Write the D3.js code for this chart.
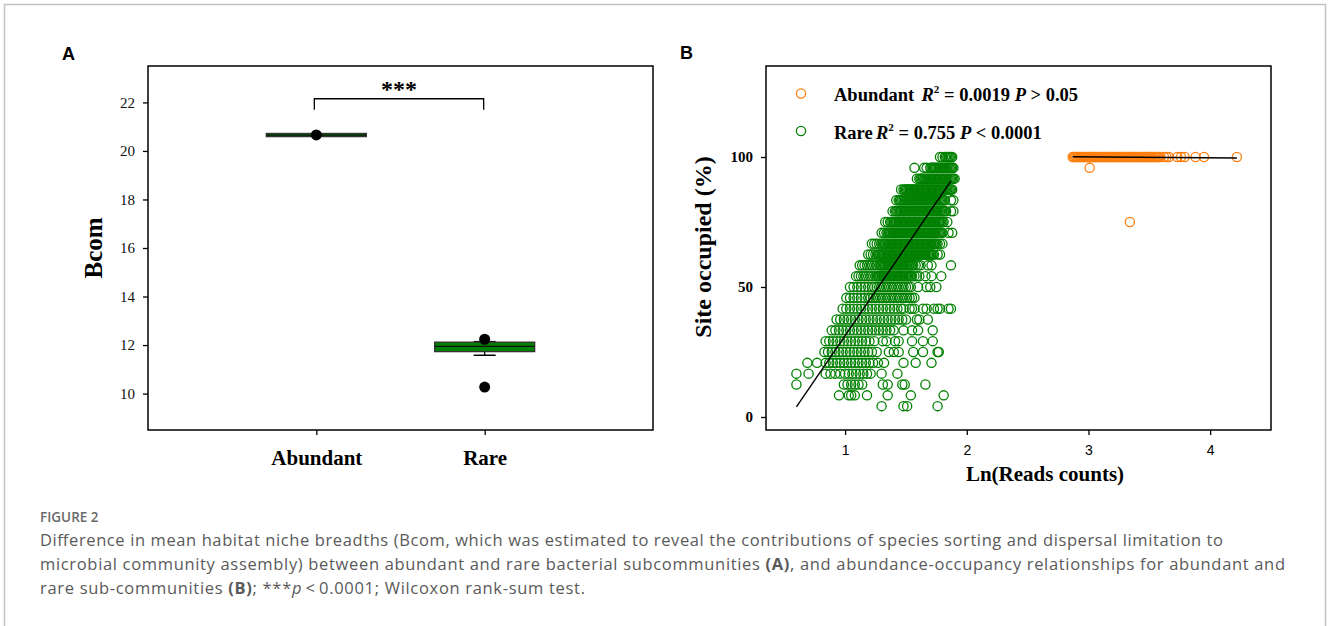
<!DOCTYPE html>
<html lang="en">
  <head>
    <meta charset="UTF-8" />
    <title>Figure 2</title>
    <script src="https://d3js.org/d3.v7.min.js"></script>
    <style>
      body {
        margin: 0;
        background: #fff;
      }
      .serif {
        font-family: "Liberation Serif", "Times New Roman", serif;
      }
      .tick line {
        stroke: #000;
        stroke-width: 1.3px;
      }
    </style>
  </head>
  <body>
    <svg width="1328" height="626"></svg>

    <script>
      // ---- panel A: box plot of Bcom ----
      var boxCats = ["Abundant", "Rare"];
      var boxQ1 = [20.59, 11.73];
      var boxMedian = [20.65, 11.95];
      var boxQ3 = [20.72, 12.12];
      var whiskerLow = [20.59, 11.58];
      var whiskerHigh = [20.72, 12.14];
      var boxOutliers = [[20.66], [12.24, 10.27]];
      var bcomTicks = [10, 12, 14, 16, 18, 20, 22];
      var bracket = [22.15, 21.7];

      // ---- panel B: abundance-occupancy ----
      // occupancy (% of 24 sites) for each row of rare OTUs
      var rareOccupied = [
        4.17, 8.33, 12.5, 16.67, 20.83, 25, 29.17, 33.33, 37.5, 41.67, 45.83,
        50, 54.17, 58.33, 62.5, 66.67, 70.83, 75, 79.17, 83.33, 87.5, 91.67,
        95.83, 100,
      ];
      // Ln(reads) of the rare OTUs in each occupancy row
      var rareReads = [
        [1.3, 1.48, 1.51, 1.76],
        [0.95, 1.03, 1.05, 1.08, 1.18, 1.35, 1.54, 1.81],
        [0.6, 0.99, 1.02, 1.05, 1.08, 1.11, 1.14, 1.31, 1.35, 1.47, 1.49, 1.66],
        [0.6, 0.7, 0.84, 0.88, 0.92, 0.96, 1.0, 1.03, 1.06, 1.09, 1.12, 1.15, 1.18, 1.21, 1.3, 1.43],
        [0.69, 0.77, 0.84, 0.87, 0.9, 0.93, 0.96, 0.99, 1.02, 1.05, 1.08, 1.11, 1.14, 1.17, 1.2, 1.23, 1.27, 1.32, 1.48, 1.58, 1.71],
        [0.83, 0.86, 0.89, 0.92, 0.95, 0.98, 1.01, 1.04, 1.07, 1.1, 1.13, 1.16, 1.19, 1.22, 1.26, 1.36, 1.4, 1.44, 1.56, 1.64, 1.76, 1.77],
        [0.84, 0.87, 0.9, 0.93, 0.96, 0.99, 1.02, 1.05, 1.08, 1.11, 1.14, 1.17, 1.2, 1.24, 1.31, 1.34, 1.41, 1.44, 1.55, 1.64, 1.72],
        [0.89, 0.92, 0.95, 0.98, 1.01, 1.04, 1.07, 1.1, 1.13, 1.16, 1.19, 1.22, 1.25, 1.28, 1.31, 1.34, 1.37, 1.4, 1.48, 1.55, 1.6, 1.72],
        [0.93, 0.96, 0.99, 1.02, 1.05, 1.08, 1.11, 1.14, 1.17, 1.2, 1.23, 1.26, 1.29, 1.32, 1.35, 1.38, 1.41, 1.44, 1.47, 1.5, 1.59, 1.61, 1.68],
        [0.98, 1.01, 1.04, 1.07, 1.1, 1.13, 1.16, 1.19, 1.22, 1.25, 1.28, 1.31, 1.34, 1.37, 1.4, 1.43, 1.46, 1.48, 1.53, 1.55, 1.57, 1.64, 1.67, 1.73, 1.76, 1.78, 1.85, 1.87],
        [1.01, 1.04, 1.07, 1.1, 1.13, 1.16, 1.19, 1.21, 1.23, 1.25, 1.27, 1.29, 1.31, 1.33, 1.35, 1.37, 1.39, 1.41, 1.43, 1.45, 1.47, 1.49, 1.51, 1.53, 1.55, 1.57],
        [1.04, 1.07, 1.1, 1.13, 1.16, 1.19, 1.22, 1.24, 1.26, 1.28, 1.3, 1.32, 1.34, 1.36, 1.38, 1.4, 1.42, 1.44, 1.46, 1.48, 1.5, 1.52, 1.54, 1.6, 1.67, 1.7, 1.75],
        [1.09, 1.11, 1.13, 1.15, 1.17, 1.19, 1.21, 1.23, 1.25, 1.26, 1.27, 1.28, 1.29, 1.3, 1.31, 1.32, 1.33, 1.34, 1.35, 1.36, 1.37, 1.38, 1.39, 1.4, 1.41, 1.42, 1.43, 1.44, 1.45, 1.46, 1.47, 1.48, 1.49, 1.5, 1.51, 1.52, 1.53, 1.54, 1.55, 1.57, 1.59, 1.61, 1.66, 1.71, 1.79],
        [1.12, 1.14, 1.16, 1.18, 1.2, 1.22, 1.24, 1.26, 1.28, 1.29, 1.3, 1.31, 1.32, 1.33, 1.34, 1.35, 1.36, 1.37, 1.38, 1.39, 1.4, 1.41, 1.42, 1.43, 1.44, 1.45, 1.46, 1.47, 1.48, 1.49, 1.5, 1.51, 1.52, 1.53, 1.54, 1.55, 1.56, 1.58, 1.6, 1.62, 1.68, 1.71, 1.87],
        [1.19, 1.21, 1.23, 1.25, 1.27, 1.28, 1.29, 1.3, 1.31, 1.32, 1.33, 1.34, 1.35, 1.36, 1.37, 1.38, 1.39, 1.4, 1.41, 1.42, 1.43, 1.44, 1.45, 1.46, 1.47, 1.48, 1.49, 1.5, 1.51, 1.52, 1.53, 1.54, 1.55, 1.56, 1.57, 1.58, 1.59, 1.6, 1.61, 1.62, 1.63, 1.64, 1.65, 1.66, 1.67, 1.68, 1.69, 1.7, 1.71, 1.72, 1.73, 1.76, 1.78],
        [1.22, 1.24, 1.26, 1.28, 1.3, 1.31, 1.32, 1.33, 1.34, 1.35, 1.36, 1.37, 1.38, 1.39, 1.4, 1.41, 1.42, 1.43, 1.44, 1.45, 1.46, 1.47, 1.48, 1.49, 1.5, 1.51, 1.52, 1.53, 1.54, 1.55, 1.56, 1.57, 1.58, 1.59, 1.6, 1.61, 1.62, 1.63, 1.64, 1.65, 1.66, 1.67, 1.68, 1.69, 1.7, 1.71, 1.72, 1.73, 1.74, 1.75, 1.76, 1.78, 1.8],
        [1.3, 1.32, 1.34, 1.35, 1.36, 1.37, 1.38, 1.39, 1.4, 1.41, 1.42, 1.43, 1.44, 1.45, 1.46, 1.47, 1.48, 1.49, 1.5, 1.51, 1.52, 1.53, 1.54, 1.55, 1.56, 1.57, 1.58, 1.59, 1.6, 1.61, 1.62, 1.63, 1.64, 1.65, 1.66, 1.67, 1.68, 1.69, 1.7, 1.71, 1.72, 1.73, 1.74, 1.75, 1.76, 1.77, 1.78, 1.79, 1.8, 1.85, 1.88],
        [1.33, 1.35, 1.37, 1.38, 1.39, 1.4, 1.41, 1.42, 1.43, 1.44, 1.45, 1.46, 1.47, 1.48, 1.49, 1.5, 1.51, 1.52, 1.53, 1.54, 1.55, 1.56, 1.57, 1.58, 1.59, 1.6, 1.61, 1.62, 1.63, 1.64, 1.65, 1.66, 1.67, 1.68, 1.69, 1.7, 1.71, 1.72, 1.73, 1.74, 1.75, 1.76, 1.77, 1.78, 1.79, 1.8, 1.81, 1.84],
        [1.39, 1.41, 1.42, 1.43, 1.44, 1.45, 1.46, 1.47, 1.48, 1.49, 1.5, 1.51, 1.52, 1.53, 1.54, 1.55, 1.56, 1.57, 1.58, 1.59, 1.6, 1.61, 1.62, 1.63, 1.64, 1.65, 1.66, 1.67, 1.68, 1.69, 1.7, 1.71, 1.72, 1.73, 1.74, 1.75, 1.76, 1.77, 1.78, 1.79, 1.8, 1.81, 1.82, 1.83, 1.87, 1.89],
        [1.42, 1.44, 1.45, 1.46, 1.47, 1.48, 1.49, 1.5, 1.51, 1.52, 1.53, 1.54, 1.55, 1.56, 1.57, 1.58, 1.59, 1.6, 1.61, 1.62, 1.63, 1.64, 1.65, 1.66, 1.67, 1.68, 1.69, 1.7, 1.71, 1.72, 1.73, 1.74, 1.75, 1.76, 1.77, 1.78, 1.79, 1.8, 1.81, 1.82, 1.87, 1.89],
        [1.46, 1.48, 1.49, 1.5, 1.51, 1.52, 1.53, 1.54, 1.55, 1.56, 1.57, 1.58, 1.59, 1.6, 1.61, 1.62, 1.63, 1.64, 1.65, 1.66, 1.67, 1.68, 1.69, 1.7, 1.71, 1.72, 1.73, 1.74, 1.75, 1.76, 1.77, 1.78, 1.79, 1.8, 1.81, 1.82, 1.83, 1.84, 1.85, 1.86, 1.87, 1.88],
        [1.59, 1.61, 1.62, 1.63, 1.64, 1.65, 1.66, 1.67, 1.68, 1.69, 1.7, 1.71, 1.72, 1.73, 1.74, 1.75, 1.76, 1.77, 1.78, 1.79, 1.8, 1.81, 1.82, 1.83, 1.84, 1.85, 1.86, 1.87, 1.88, 1.89, 1.9],
        [1.57, 1.65, 1.67, 1.7, 1.71, 1.72, 1.73, 1.74, 1.75, 1.76, 1.77, 1.78, 1.79, 1.8, 1.81, 1.82, 1.83, 1.84, 1.85, 1.86, 1.87, 1.88, 1.89],
        [1.78, 1.8, 1.82, 1.83, 1.84, 1.85, 1.86, 1.87, 1.88],
      ];
      var abundantOccupied = [75, 95.83, 100];
      var abundantReads = [
        [3.34],
        [3.01],
        [2.87, 2.88, 2.89, 2.9, 2.91, 2.92, 2.93, 2.94, 2.95, 2.96, 2.97, 2.98, 2.99, 3.0, 3.01, 3.02, 3.03, 3.04, 3.05, 3.06, 3.07, 3.08, 3.09, 3.1, 3.11, 3.12, 3.13, 3.14, 3.15, 3.16, 3.17, 3.18, 3.19, 3.2, 3.21, 3.22, 3.23, 3.24, 3.25, 3.26, 3.27, 3.28, 3.29, 3.3, 3.31, 3.32, 3.33, 3.34, 3.35, 3.36, 3.37, 3.38, 3.39, 3.4, 3.41, 3.42, 3.43, 3.44, 3.45, 3.46, 3.47, 3.48, 3.49, 3.5, 3.51, 3.52, 3.53, 3.54, 3.55, 3.56, 3.57, 3.58, 3.59, 3.62, 3.64, 3.66, 3.73, 3.76, 3.79, 3.88, 3.95, 4.22],
      ];
      // fitted lines (end points)
      var rareFit = [[0.6, 3.9], [1.87, 90.8]];
      var abundantFit = [[2.87, 100.1], [4.22, 99.6]];
      var occTicks = [0, 50, 100];
      var readTicks = [1, 2, 3, 4];

      var green = "#008000",
        orange = "#ff7f0e";

      var svg = d3.select("svg");

      // outer figure frame
      svg
        .append("path")
        .attr("d", "M4.5,640V4.5H1325.5V640")
        .attr("fill", "none")
        .attr("stroke", "#c4c4c4")
        .attr("stroke-width", 1.5);

      // ================= Panel A =================
      var A = { left: 148, right: 653, top: 66, bottom: 430 };
      var xA = d3.scalePoint().domain(boxCats).range([A.left, A.right]).padding(1);
      var yA = d3.scaleLinear().domain([8.5, 23.5]).range([A.bottom, A.top]);

      var gA = svg.append("g");

      gA.append("g")
        .attr("class", "serif")
        .attr("transform", "translate(" + A.left + ",0)")
        .call(d3.axisLeft(yA).tickValues(bcomTicks).tickSize(5).tickPadding(8))
        .call(function (g) {
          g.select(".domain").remove();
          g.selectAll("text").attr("font-size", 15).attr("fill", "#111");
        });

      gA.append("g")
        .attr("class", "serif")
        .attr("transform", "translate(0," + A.bottom + ")")
        .call(d3.axisBottom(xA).tickSize(5).tickPadding(15))
        .call(function (g) {
          g.select(".domain").remove();
          g.selectAll("text").attr("font-size", 21).attr("font-weight", "bold").attr("fill", "#000");
        });

      gA.append("rect")
        .attr("x", A.left)
        .attr("y", A.top)
        .attr("width", A.right - A.left)
        .attr("height", A.bottom - A.top)
        .attr("fill", "none")
        .attr("stroke", "#000")
        .attr("stroke-width", 1.5);

      var boxW = 100,
        capW = 22;
      boxCats.forEach(function (c, i) {
        var cx = xA(c);
        if (whiskerLow[i] < boxQ1[i]) {
          gA.append("line")
            .attr("x1", cx).attr("x2", cx)
            .attr("y1", yA(boxQ1[i])).attr("y2", yA(whiskerLow[i]))
            .attr("stroke", "#000").attr("stroke-width", 1.3);
          gA.append("line")
            .attr("x1", cx - capW / 2).attr("x2", cx + capW / 2)
            .attr("y1", yA(whiskerLow[i])).attr("y2", yA(whiskerLow[i]))
            .attr("stroke", "#000").attr("stroke-width", 1.5);
        }
        if (whiskerHigh[i] > boxQ3[i]) {
          gA.append("line")
            .attr("x1", cx - capW / 2).attr("x2", cx + capW / 2)
            .attr("y1", yA(whiskerHigh[i])).attr("y2", yA(whiskerHigh[i]))
            .attr("stroke", "#000").attr("stroke-width", 1.5);
        }
        gA.append("rect")
          .attr("x", cx - boxW / 2)
          .attr("y", yA(boxQ3[i]))
          .attr("width", boxW)
          .attr("height", Math.max(yA(boxQ1[i]) - yA(boxQ3[i]), 1))
          .attr("fill", green)
          .attr("stroke", "#333")
          .attr("stroke-width", 1.3);
        gA.append("line")
          .attr("x1", cx - boxW / 2).attr("x2", cx + boxW / 2)
          .attr("y1", yA(boxMedian[i])).attr("y2", yA(boxMedian[i]))
          .attr("stroke", "#111").attr("stroke-width", 1.2);
        gA.selectAll(null)
          .data(boxOutliers[i])
          .enter()
          .append("circle")
          .attr("cx", cx)
          .attr("cy", function (d) { return yA(d); })
          .attr("r", 5.5)
          .attr("fill", "#000");
      });

      // significance bracket
      var bx1 = xA("Abundant") - 2,
        bx2 = xA("Rare") - 1;
      gA.append("path")
        .attr("d", "M" + bx1 + "," + yA(bracket[1]) + "V" + yA(bracket[0]) + "H" + bx2 + "V" + yA(bracket[1]))
        .attr("fill", "none")
        .attr("stroke", "#000")
        .attr("stroke-width", 1.3);
      gA.append("text")
        .attr("class", "serif")
        .attr("x", (bx1 + bx2) / 2)
        .attr("y", yA(bracket[0]) - 2)
        .attr("text-anchor", "middle")
        .attr("font-size", 24)
        .attr("font-weight", "bold")
        .text("***");

      gA.append("text")
        .attr("class", "serif")
        .attr("transform", "translate(102,248) rotate(-90)")
        .attr("text-anchor", "middle")
        .attr("font-size", 25)
        .attr("font-weight", "bold")
        .text("Bcom");

      gA.append("text")
        .attr("x", 62)
        .attr("y", 60)
        .attr("font-family", "Liberation Sans, Arial, sans-serif")
        .attr("font-weight", "bold")
        .attr("font-size", 18)
        .text("A");

      // ================= Panel B =================
      var B = { left: 766, right: 1271, top: 66, bottom: 430 };
      var xB = d3.scaleLinear().domain([0.35, 4.5]).range([B.left, B.right]);
      var yB = d3.scaleLinear().domain([-5, 135]).range([B.bottom, B.top]);
      var gB = svg.append("g");

      gB.append("g")
        .attr("class", "serif")
        .attr("transform", "translate(" + B.left + ",0)")
        .call(d3.axisLeft(yB).tickValues(occTicks).tickSize(5).tickPadding(8))
        .call(function (g) {
          g.select(".domain").remove();
          g.selectAll("text").attr("font-size", 15).attr("font-weight", "bold").attr("fill", "#000");
        });

      gB.append("g")
        .attr("transform", "translate(0," + B.bottom + ")")
        .call(d3.axisBottom(xB).tickValues(readTicks).tickFormat(d3.format("d")).tickSize(5).tickPadding(10))
        .call(function (g) {
          g.select(".domain").remove();
          g.selectAll("text")
            .attr("font-family", "Liberation Sans, Arial, sans-serif")
            .attr("font-size", 14)
            .attr("fill", "#000");
        });

      gB.append("rect")
        .attr("x", B.left)
        .attr("y", B.top)
        .attr("width", B.right - B.left)
        .attr("height", B.bottom - B.top)
        .attr("fill", "none")
        .attr("stroke", "#000")
        .attr("stroke-width", 1.5);

      function flatten(occ, reads) {
        var pts = [];
        occ.forEach(function (o, i) {
          reads[i].forEach(function (r) {
            pts.push([r, o]);
          });
        });
        return pts;
      }

      gB.append("g")
        .selectAll("circle")
        .data(flatten(rareOccupied, rareReads))
        .enter()
        .append("circle")
        .attr("cx", function (d) { return xB(d[0]); })
        .attr("cy", function (d) { return yB(d[1]); })
        .attr("r", 4.6)
        .attr("fill", "none")
        .attr("stroke", green)
        .attr("stroke-width", 1.3);

      gB.append("g")
        .selectAll("circle")
        .data(flatten(abundantOccupied, abundantReads))
        .enter()
        .append("circle")
        .attr("cx", function (d) { return xB(d[0]); })
        .attr("cy", function (d) { return yB(d[1]); })
        .attr("r", 4.6)
        .attr("fill", "none")
        .attr("stroke", orange)
        .attr("stroke-width", 1.3);

      var fitLine = d3
        .line()
        .x(function (d) { return xB(d[0]); })
        .y(function (d) { return yB(d[1]); });
      [rareFit, abundantFit].forEach(function (f) {
        gB.append("path")
          .attr("d", fitLine(f))
          .attr("fill", "none")
          .attr("stroke", "#000")
          .attr("stroke-width", 1.4);
      });

      // legend
      var legend = [
        { color: orange, name: "Abundant", r2: "0.0019", p: "> 0.05", y: 93.5, rx: 921.5 },
        { color: green, name: "Rare", r2: "0.755", p: "< 0.0001", y: 131, rx: 876 },
      ];
      legend.forEach(function (l) {
        gB.append("circle")
          .attr("cx", 801)
          .attr("cy", l.y)
          .attr("r", 4.6)
          .attr("fill", "none")
          .attr("stroke", l.color)
          .attr("stroke-width", 1.3);
        var t = gB.append("text")
          .attr("class", "serif")
          .attr("x", 834)
          .attr("y", l.y + 7.5)
          .attr("font-size", 18.5)
          .attr("font-weight", "bold");
        t.append("tspan").text(l.name);
        t.append("tspan").attr("x", l.rx).attr("font-style", "italic").text("R");
        t.append("tspan").attr("font-size", 11).attr("dy", -8).text("2");
        t.append("tspan").attr("dy", 8).text(" = " + l.r2 + " ");
        t.append("tspan").attr("font-style", "italic").text("P");
        t.append("tspan").text(" " + l.p);
      });

      gB.append("text")
        .attr("class", "serif")
        .attr("transform", "translate(711,247) rotate(-90)")
        .attr("text-anchor", "middle")
        .attr("font-size", 24)
        .attr("font-weight", "bold")
        .text("Site occupied (%)");

      gB.append("text")
        .attr("class", "serif")
        .attr("x", 1045)
        .attr("y", 481)
        .attr("text-anchor", "middle")
        .attr("font-size", 21)
        .attr("font-weight", "bold")
        .text("Ln(Reads counts)");

      gB.append("text")
        .attr("x", 680)
        .attr("y", 59)
        .attr("font-family", "Liberation Sans, Arial, sans-serif")
        .attr("font-weight", "bold")
        .attr("font-size", 18)
        .text("B");

      // ================= caption =================
      var cap = svg.append("g")
        .attr("font-family", "Open Sans, Noto Sans, sans-serif")
        .attr("fill", "#5a5a5a");

      cap.append("text")
        .attr("x", 40)
        .attr("y", 521.5)
        .attr("font-size", 13.5)
        .attr("font-weight", 600)
        .attr("fill", "#6a6a6a")
        .text("FIGURE 2");

      var captionLines = [
        [["Difference in mean habitat niche breadths (Bcom, which was estimated to reveal the contributions of species sorting and dispersal limitation to", ""]],
        [
          ["microbial community assembly) between abundant and rare bacterial subcommunities ", ""],
          ["(A)", "b"],
          [", and abundance-occupancy relationships for abundant and", ""],
        ],
        [
          ["rare sub-communities ", ""],
          ["(B)", "b"],
          ["; ***", ""],
          ["p", "i"],
          ["\u2009<\u20090.0001; Wilcoxon rank-sum test.", ""],
        ],
      ];
      var captionWidths = [1183, 1245, 545];
      captionLines.forEach(function (parts, i) {
        var t = cap.append("text")
          .attr("x", 40)
          .attr("y", 546 + i * 24)
          .attr("font-size", 16.5)
          .attr("textLength", captionWidths[i])
          .attr("lengthAdjust", "spacing")
          .style("white-space", "pre");
        parts.forEach(function (p) {
          var s = t.append("tspan").text(p[0]);
          if (p[1] === "b") s.attr("font-weight", "bold");
          if (p[1] === "i") s.attr("font-style", "italic");
        });
      });
    </script>
  </body>
</html>
